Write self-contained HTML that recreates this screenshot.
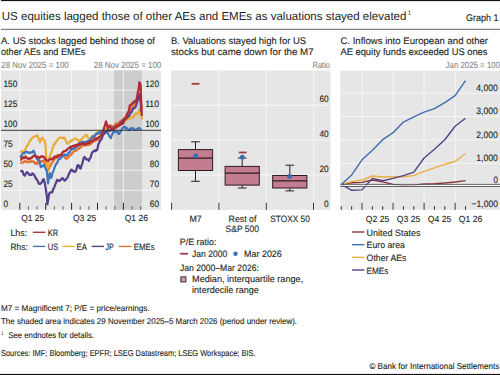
<!DOCTYPE html>
<html><head><meta charset="utf-8"><style>
html,body{margin:0;padding:0;background:#fff;width:500px;height:375px;overflow:hidden}
svg{display:block;font-family:"Liberation Sans", sans-serif;text-rendering:geometricPrecision}
text{stroke-width:0.12px;paint-order:stroke}
</style></head><body>
<svg width="500" height="375" viewBox="0 0 500 375">
<rect x="0.9" y="0" width="499.1" height="1.1" fill="#151515"/>
<rect x="0.9" y="28.8" width="499.1" height="1.1" fill="#707070"/>
<rect x="0" y="373.9" width="500" height="1.1" fill="#111"/>
<text x="1.8" y="19.9" font-size="11.6" fill="#231f20" textLength="404.6" lengthAdjust="spacingAndGlyphs">US equities lagged those of other AEs and EMEs as valuations stayed elevated</text>
<text x="408.2" y="14.7" font-size="6.4" fill="#231f20" stroke="#231f20" textLength="2.4" lengthAdjust="spacingAndGlyphs">1</text>
<text x="498.6" y="20.8" font-size="9.8" fill="#231f20" stroke="#231f20" text-anchor="end" textLength="32.6" lengthAdjust="spacingAndGlyphs">Graph 1</text>
<text x="1" y="44" font-size="9.6" fill="#231f20" stroke="#231f20" textLength="154" lengthAdjust="spacingAndGlyphs">A. US stocks lagged behind those of</text>
<text x="1" y="54.8" font-size="9.6" fill="#231f20" stroke="#231f20" textLength="84.3" lengthAdjust="spacingAndGlyphs">other AEs and EMEs</text>
<text x="1.3" y="68" font-size="8.9" fill="#8a8a8a" stroke="#8a8a8a" textLength="67.5" lengthAdjust="spacingAndGlyphs">28 Nov 2025 = 100</text>
<text x="161.3" y="68" font-size="8.9" fill="#8a8a8a" stroke="#8a8a8a" text-anchor="end" textLength="67.5" lengthAdjust="spacingAndGlyphs">28 Nov 2025 = 100</text>
<rect x="1" y="70.4" width="160" height="139.4" fill="#e6e6e6"/>
<rect x="114" y="70.4" width="28" height="139.4" fill="#cdcdcd"/>
<line x1="1" y1="90.22999999999999" x2="161" y2="90.22999999999999" stroke="#fff" stroke-width="0.65"/>
<line x1="1" y1="110.25" x2="161" y2="110.25" stroke="#fff" stroke-width="0.65"/>
<line x1="1" y1="150.29" x2="161" y2="150.29" stroke="#fff" stroke-width="0.65"/>
<line x1="1" y1="170.31" x2="161" y2="170.31" stroke="#fff" stroke-width="0.65"/>
<line x1="1" y1="190.32999999999998" x2="161" y2="190.32999999999998" stroke="#fff" stroke-width="0.65"/>
<line x1="19.8" y1="70.4" x2="19.8" y2="209.8" stroke="#fff" stroke-width="0.65"/>
<line x1="45.7" y1="70.4" x2="45.7" y2="209.8" stroke="#fff" stroke-width="0.65"/>
<line x1="71.6" y1="70.4" x2="71.6" y2="209.8" stroke="#fff" stroke-width="0.65"/>
<line x1="97.5" y1="70.4" x2="97.5" y2="209.8" stroke="#fff" stroke-width="0.65"/>
<line x1="123.4" y1="70.4" x2="123.4" y2="209.8" stroke="#fff" stroke-width="0.65"/>
<line x1="19.8" y1="202.8" x2="19.8" y2="209.8" stroke="#222" stroke-width="1"/>
<line x1="28.433333333333334" y1="206.20000000000002" x2="28.433333333333334" y2="209.8" stroke="#666" stroke-width="1"/>
<line x1="37.06666666666666" y1="206.20000000000002" x2="37.06666666666666" y2="209.8" stroke="#666" stroke-width="1"/>
<line x1="45.699999999999996" y1="202.8" x2="45.699999999999996" y2="209.8" stroke="#222" stroke-width="1"/>
<line x1="54.33333333333333" y1="206.20000000000002" x2="54.33333333333333" y2="209.8" stroke="#666" stroke-width="1"/>
<line x1="62.96666666666667" y1="206.20000000000002" x2="62.96666666666667" y2="209.8" stroke="#666" stroke-width="1"/>
<line x1="71.6" y1="202.8" x2="71.6" y2="209.8" stroke="#222" stroke-width="1"/>
<line x1="80.23333333333333" y1="206.20000000000002" x2="80.23333333333333" y2="209.8" stroke="#666" stroke-width="1"/>
<line x1="88.86666666666666" y1="206.20000000000002" x2="88.86666666666666" y2="209.8" stroke="#666" stroke-width="1"/>
<line x1="97.5" y1="202.8" x2="97.5" y2="209.8" stroke="#222" stroke-width="1"/>
<line x1="106.13333333333333" y1="206.20000000000002" x2="106.13333333333333" y2="209.8" stroke="#666" stroke-width="1"/>
<line x1="114.76666666666665" y1="206.20000000000002" x2="114.76666666666665" y2="209.8" stroke="#666" stroke-width="1"/>
<line x1="123.39999999999998" y1="202.8" x2="123.39999999999998" y2="209.8" stroke="#222" stroke-width="1"/>
<line x1="132.03333333333333" y1="206.20000000000002" x2="132.03333333333333" y2="209.8" stroke="#666" stroke-width="1"/>
<line x1="140.66666666666666" y1="206.20000000000002" x2="140.66666666666666" y2="209.8" stroke="#666" stroke-width="1"/>
<text x="3.5" y="87.13" font-size="9.2" fill="#231f20" stroke="#231f20" textLength="13.799999999999999" lengthAdjust="spacingAndGlyphs">150</text>
<text x="3.5" y="107.15" font-size="9.2" fill="#231f20" stroke="#231f20" textLength="13.799999999999999" lengthAdjust="spacingAndGlyphs">125</text>
<text x="3.5" y="127.16999999999999" font-size="9.2" fill="#231f20" stroke="#231f20" textLength="13.799999999999999" lengthAdjust="spacingAndGlyphs">100</text>
<text x="3.5" y="147.19" font-size="9.2" fill="#231f20" stroke="#231f20" textLength="9.2" lengthAdjust="spacingAndGlyphs">75</text>
<text x="3.5" y="167.21" font-size="9.2" fill="#231f20" stroke="#231f20" textLength="9.2" lengthAdjust="spacingAndGlyphs">50</text>
<text x="3.5" y="187.23" font-size="9.2" fill="#231f20" stroke="#231f20" textLength="9.2" lengthAdjust="spacingAndGlyphs">25</text>
<text x="3.5" y="207.25" font-size="9.2" fill="#231f20" stroke="#231f20" textLength="4.6" lengthAdjust="spacingAndGlyphs">0</text>
<text x="159.0" y="87.13" font-size="9.2" fill="#231f20" stroke="#231f20" text-anchor="end" textLength="13.799999999999999" lengthAdjust="spacingAndGlyphs">120</text>
<text x="159.0" y="107.15" font-size="9.2" fill="#231f20" stroke="#231f20" text-anchor="end" textLength="13.799999999999999" lengthAdjust="spacingAndGlyphs">110</text>
<text x="159.0" y="127.16999999999999" font-size="9.2" fill="#231f20" stroke="#231f20" text-anchor="end" textLength="13.799999999999999" lengthAdjust="spacingAndGlyphs">100</text>
<text x="159.0" y="147.19" font-size="9.2" fill="#231f20" stroke="#231f20" text-anchor="end" textLength="9.2" lengthAdjust="spacingAndGlyphs">90</text>
<text x="159.0" y="167.21" font-size="9.2" fill="#231f20" stroke="#231f20" text-anchor="end" textLength="9.2" lengthAdjust="spacingAndGlyphs">80</text>
<text x="159.0" y="187.23" font-size="9.2" fill="#231f20" stroke="#231f20" text-anchor="end" textLength="9.2" lengthAdjust="spacingAndGlyphs">70</text>
<text x="159.0" y="207.25" font-size="9.2" fill="#231f20" stroke="#231f20" text-anchor="end" textLength="9.2" lengthAdjust="spacingAndGlyphs">60</text>
<text x="32.75" y="221.3" font-size="8.8" fill="#231f20" stroke="#231f20" text-anchor="middle" textLength="23.2" lengthAdjust="spacingAndGlyphs">Q1 25</text>
<text x="84.55" y="221.3" font-size="8.8" fill="#231f20" stroke="#231f20" text-anchor="middle" textLength="23.2" lengthAdjust="spacingAndGlyphs">Q3 25</text>
<text x="136.35" y="221.3" font-size="8.8" fill="#231f20" stroke="#231f20" text-anchor="middle" textLength="23.2" lengthAdjust="spacingAndGlyphs">Q1 26</text>
<clipPath id="cA"><rect x="1" y="70.4" width="160" height="139.4"/></clipPath>
<g clip-path="url(#cA)">
<polyline points="20.3,163.2 21.1,162.8 22.0,162.4 22.7,162.6 23.4,162.5 24.2,161.5 24.9,161.1 25.6,161.7 26.4,161.4 27.1,162.3 27.8,161.6 28.6,161.9 29.3,161.8 30.1,161.7 30.9,161.9 31.7,161.0 32.4,161.5 33.2,161.6 34.0,161.6 34.8,163.5 35.6,162.6 36.4,164.0 37.2,164.0 38.0,162.1 38.8,162.7 39.6,161.5 40.4,161.2 41.2,161.1 42.0,162.0 42.8,160.6 43.6,160.7 44.4,161.6 45.1,164.6 45.9,166.2 46.6,167.8 47.4,170.8 48.1,170.5 48.8,169.2 49.6,166.5 50.3,165.9 51.0,164.8 51.8,162.9 52.5,162.1 53.2,161.4 54.0,160.0 54.8,158.4 55.6,158.3 56.4,156.1 57.2,155.2 58.0,154.8 58.8,155.4 59.6,154.8 60.4,154.9 61.2,155.3 62.0,155.2 62.8,155.8 63.6,156.3 64.4,156.3 65.2,158.2 66.0,158.4 66.7,158.8 67.4,158.3 68.2,157.3 68.9,156.2 69.6,156.0 70.3,155.0 71.0,154.9 71.8,154.2 72.5,152.4 73.2,152.4 74.0,151.3 74.8,151.0 75.6,150.6 76.4,150.6 77.2,149.4 78.0,148.8 78.8,147.5 79.5,148.5 80.2,147.3 81.0,147.0 81.8,146.0 82.5,146.0 83.2,145.4 84.0,145.2 84.8,145.6 85.5,144.3 86.2,145.1 87.0,144.3 87.8,145.2 88.5,143.9 89.2,144.3 90.0,144.6 90.8,143.7 91.6,143.6 92.4,142.0 93.2,142.1 94.0,141.1 94.8,141.0 95.6,140.1 96.4,140.0 97.2,140.3 98.0,139.0 98.8,139.3 99.6,138.0 100.4,136.6 101.2,137.2 102.0,135.4 102.8,134.2 103.6,134.4 104.4,133.2 105.1,132.7 105.8,129.9 106.6,129.2 107.3,128.9 108.0,127.2 108.8,126.7 109.6,126.3 110.4,125.7 111.2,125.6 112.0,126.4 112.8,126.0 113.5,126.4 114.3,126.0 115.0,124.7 115.8,123.4 116.5,123.5 117.3,123.9 118.0,123.0 118.8,123.0 119.6,122.1 120.4,120.8 121.2,120.8 122.0,120.1 122.8,119.6 123.5,119.1 124.2,117.7 125.0,118.2 125.7,117.4 126.4,116.0 127.1,114.2 127.8,113.2 128.6,113.1 129.3,110.8 130.0,110.0 130.8,109.6 131.6,107.6 132.4,106.8 133.2,105.6 134.0,104.0 134.8,102.5 135.5,101.6 136.2,100.6 137.0,100.0 138.0,98.8 139.0,97.0 139.8,98.8 140.5,100.0 141.8,108.0" fill="none" stroke="#e2702f" stroke-width="2.2" stroke-linejoin="round" stroke-linecap="butt"/>
<polyline points="20.3,152.8 21.2,151.5 22.2,151.0 23.0,151.1 23.8,150.9 24.6,150.4 25.5,149.7 26.3,147.1 27.1,145.9 28.0,145.0 28.8,142.9 29.5,141.6 30.2,141.1 31.0,139.2 31.8,138.0 32.5,138.2 33.2,137.0 34.0,137.0 34.9,136.2 35.7,136.0 36.5,136.3 37.4,135.2 38.2,137.8 39.0,139.1 39.8,142.4 40.6,140.4 41.4,138.6 42.2,137.6 43.0,139.1 43.8,139.8 44.6,140.0 45.5,146.0 46.4,159.6 47.2,172.0 48.2,166.0 49.2,158.0 50.0,156.1 50.9,153.5 51.7,151.4 52.6,148.6 53.4,145.6 54.2,144.0 54.9,144.0 55.7,142.2 56.4,141.6 57.2,140.0 58.1,139.3 58.9,138.3 59.8,137.6 60.6,137.6 61.4,137.9 62.2,137.9 63.0,138.4 63.9,137.5 64.8,138.0 65.6,140.4 66.4,142.1 67.2,143.4 68.0,143.8 68.8,142.7 69.6,142.0 70.4,141.8 71.2,140.2 72.0,140.4 72.7,140.4 73.4,139.6 74.2,138.7 74.9,138.4 75.6,138.6 76.3,139.1 77.0,139.2 77.7,140.0 78.4,140.8 79.1,140.9 79.8,141.6 80.5,140.1 81.2,140.0 81.9,138.7 82.6,137.9 83.3,137.1 84.0,136.8 84.8,136.0 85.6,134.8 86.4,135.0 87.2,136.3 87.9,137.9 88.7,138.0 89.4,139.2 90.2,138.9 91.1,138.5 91.9,136.2 92.8,135.7 93.6,135.6 94.4,135.6 95.2,135.0 96.0,134.1 96.8,132.6 97.6,132.4 98.4,132.0 99.1,132.5 99.8,132.5 100.6,132.2 101.3,131.0 102.0,131.4 102.8,131.8 103.6,130.6 104.4,130.9 105.2,129.6 106.0,130.0 106.8,131.0 107.6,130.6 108.4,131.0 109.2,130.3 110.0,131.0 110.8,130.8 111.6,130.3 112.4,130.0 113.2,129.1 114.0,129.0 114.8,128.8 115.6,127.5 116.4,126.8 117.2,126.0 118.0,126.0 118.8,125.8 119.5,124.3 120.2,124.0 121.0,123.2 121.8,123.8 122.5,123.1 123.2,122.6 124.0,122.0 124.8,120.6 125.6,120.7 126.4,119.9 127.2,118.9 128.0,118.1 128.8,118.4 129.6,119.1 130.4,117.3 131.2,117.4 132.0,117.2 132.8,117.6 133.6,117.2 134.4,115.2 135.2,114.6 136.0,113.4 136.8,113.2 137.6,114.1 138.4,113.6 139.6,108.6 140.8,110.0 142.0,119.6" fill="none" stroke="#eaab38" stroke-width="2.2" stroke-linejoin="round" stroke-linecap="butt"/>
<polyline points="20.3,157.6 21.2,155.4 22.1,154.9 23.0,153.0 23.8,153.0 24.6,153.3 25.4,151.8 26.2,152.0 27.0,151.7 27.7,152.7 28.5,152.8 29.2,152.3 30.0,152.8 30.8,152.8 31.6,152.0 32.4,152.3 33.2,150.8 34.0,151.2 35.2,155.2 36.1,156.3 37.1,159.1 38.0,160.0 39.0,160.0 39.9,163.3 40.8,167.2 41.5,166.2 42.3,166.5 43.0,165.6 43.8,164.8 44.5,165.7 45.3,167.9 46.0,169.6 46.8,170.8 48.0,183.4 48.9,177.7 49.8,173.2 51.0,178.0 51.8,176.2 52.5,173.1 53.2,171.4 54.0,169.6 54.8,166.8 55.6,165.1 56.4,163.6 57.3,162.7 58.2,160.0 59.1,159.0 60.0,158.4 60.7,158.6 61.4,156.8 62.2,156.4 62.9,156.2 63.6,154.8 64.3,155.3 65.0,154.3 65.8,155.3 66.5,155.5 67.2,155.4 67.9,153.7 68.6,152.5 69.4,152.8 70.1,151.1 70.8,150.0 71.6,149.0 72.4,149.1 73.2,148.3 74.0,148.9 74.8,148.0 75.6,147.6 76.3,146.0 77.0,146.5 77.8,144.3 78.5,143.8 79.2,143.4 80.0,142.4 80.8,143.4 81.6,142.1 82.4,142.6 83.2,141.7 84.0,142.2 84.8,142.0 85.6,142.1 86.4,141.7 87.2,141.3 88.0,141.2 88.8,141.0 89.6,140.1 90.4,139.6 91.2,137.9 92.0,137.8 92.8,136.5 93.6,136.2 94.3,136.4 95.0,136.0 95.8,134.0 96.5,133.6 97.2,133.8 98.0,133.8 98.8,133.1 99.6,131.7 100.4,132.6 101.2,132.6 102.0,131.4 102.7,131.4 103.4,131.4 104.2,131.9 104.9,132.7 105.6,132.0 106.4,132.0 107.2,132.8 107.9,133.5 108.6,134.4 109.4,136.3 110.1,137.1 110.8,138.2 111.6,135.8 112.4,134.0 113.2,132.2 113.9,131.1 114.6,131.4 115.4,132.3 116.1,131.4 116.8,131.0 117.6,131.6 118.4,133.8 119.2,134.0 120.0,132.5 120.8,131.2 121.6,129.6 122.4,128.6 123.2,127.5 124.0,126.8 124.8,126.8 125.6,128.5 126.4,127.9 127.2,128.3 128.0,129.5 128.8,129.8 129.5,130.2 130.2,128.7 131.0,129.2 131.7,128.1 132.4,128.0 133.1,128.5 133.8,128.9 134.6,129.9 135.3,129.9 136.0,129.8 136.8,129.2 137.6,129.2 138.4,128.0 139.2,128.1 139.9,128.4 140.7,129.7 141.4,129.2" fill="none" stroke="#3d76bd" stroke-width="2.2" stroke-linejoin="round" stroke-linecap="butt"/>
<polyline points="20.3,171.4 21.2,171.0 22.2,170.8 23.0,172.5 23.8,174.8 24.6,175.6 25.4,174.3 26.2,173.2 27.0,172.0 27.8,173.2 28.6,173.4 29.4,175.0 30.1,174.8 30.8,174.8 31.6,174.8 32.3,173.3 33.0,173.8 33.8,174.5 34.5,175.2 35.2,177.5 36.0,178.0 36.8,179.9 37.6,180.4 38.4,182.8 39.2,183.9 40.0,184.0 40.8,183.4 41.5,182.6 42.3,181.5 43.0,179.6 43.8,179.2 44.7,182.5 45.6,187.6 46.8,196.0 47.4,204.4 48.3,199.1 49.2,193.6 50.0,192.5 50.7,192.4 51.5,192.2 52.2,192.4 53.0,189.6 53.8,188.3 54.6,186.4 55.4,184.1 56.2,182.6 57.0,179.8 57.8,180.2 58.6,180.9 59.4,181.0 60.1,180.2 60.9,179.8 61.6,178.7 62.4,178.0 63.3,178.8 64.2,180.4 64.9,180.6 65.6,179.9 66.4,178.9 67.1,177.9 67.8,176.8 68.5,175.0 69.2,173.4 70.0,172.1 70.7,170.3 71.4,169.6 72.1,170.6 72.8,170.4 73.6,171.7 74.3,171.3 75.0,172.0 75.8,171.1 76.5,169.1 77.2,165.9 78.0,165.0 78.9,165.7 79.7,168.1 80.6,168.6 81.4,165.7 82.3,163.8 83.2,159.9 84.0,157.2 84.8,157.0 85.6,158.6 86.4,159.5 87.2,159.2 88.0,159.5 88.8,160.8 89.5,158.8 90.2,158.3 91.0,156.2 91.7,153.4 92.4,152.4 93.2,151.5 94.0,150.9 94.8,150.4 95.6,151.3 96.4,149.8 97.2,150.0 98.4,144.0 99.1,142.9 99.8,141.5 100.6,139.8 101.3,139.6 102.0,138.0 102.8,135.3 103.6,134.0 104.4,133.5 105.3,131.8 106.2,131.6 107.0,131.0 107.7,130.2 108.4,130.1 109.1,131.1 109.9,130.5 110.6,129.4 111.3,130.1 112.0,129.2 112.7,128.2 113.5,128.1 114.2,128.5 114.9,127.7 115.7,126.3 116.4,127.4 117.1,125.6 117.9,125.2 118.6,125.2 119.4,124.9 120.3,123.3 121.2,122.4 122.0,122.0 122.8,120.5 123.6,119.9 124.4,120.1 125.2,118.8 126.0,118.8 126.8,117.7 127.6,117.2 128.4,115.9 129.2,115.6 130.0,113.6 130.8,112.5 131.6,111.9 132.4,110.0 133.2,108.8 134.0,108.0 134.8,108.0 135.6,106.7 136.3,104.6 137.1,101.5 137.8,100.0 138.7,96.4 139.6,94.0 140.5,100.0 141.4,112.0" fill="none" stroke="#573e8c" stroke-width="2.2" stroke-linejoin="round" stroke-linecap="butt"/>
<polyline points="20.3,159.2 21.1,159.7 21.9,157.6 22.6,158.5 23.4,157.1 24.2,158.2 25.0,157.0 25.7,156.4 26.4,158.2 27.1,158.1 27.9,158.7 28.6,159.2 29.3,158.1 30.0,158.8 30.8,158.0 31.6,158.1 32.4,156.8 33.2,156.2 34.0,155.6 34.8,155.6 35.6,156.6 36.4,157.1 37.2,157.3 38.0,156.7 38.8,157.6 39.6,158.1 40.4,157.1 41.2,156.4 42.0,156.6 42.8,156.4 43.6,157.1 44.4,157.4 45.2,159.2 46.0,159.7 46.8,160.8 47.6,160.5 48.4,160.8 49.2,159.9 50.0,159.2 50.7,158.8 51.4,159.3 52.1,159.3 52.8,158.1 53.6,158.7 54.3,156.7 55.0,156.7 55.7,156.5 56.4,156.8 57.1,157.3 57.8,156.6 58.6,156.4 59.3,155.3 60.0,155.4 60.8,154.7 61.6,154.7 62.4,152.6 63.2,151.9 64.0,151.1 64.8,151.2 65.6,150.5 66.4,150.6 67.2,149.5 68.0,148.6 68.8,148.2 69.6,147.6 70.3,146.7 71.1,147.8 71.8,146.4 72.6,145.9 73.3,145.8 74.1,146.4 74.8,145.2 75.6,145.2 76.3,145.8 77.1,144.6 77.8,144.6 78.6,143.8 79.3,145.2 80.1,144.8 80.8,144.1 81.6,144.0 82.3,143.2 83.1,143.8 83.8,143.6 84.6,144.3 85.3,144.4 86.1,144.0 86.8,143.1 87.6,143.4 88.3,142.1 89.1,143.2 89.8,142.9 90.6,141.0 91.3,141.1 92.1,140.7 92.8,141.1 93.6,139.8 94.3,138.6 95.1,138.3 95.8,139.3 96.6,138.4 97.3,137.9 98.1,138.0 98.8,137.3 99.6,136.8 100.3,136.4 101.0,135.0 101.7,134.0 102.4,134.0 103.1,130.6 103.8,128.7 104.6,126.7 105.3,123.7 106.0,121.4 106.9,124.4 107.8,128.0 108.7,127.0 109.6,125.6 110.4,127.4 111.2,128.6 112.0,129.8 112.7,128.9 113.4,129.2 114.2,128.5 114.9,128.1 115.6,126.8 116.3,127.3 117.0,125.4 117.8,126.4 118.5,125.6 119.2,125.6 119.9,125.0 120.6,124.9 121.4,123.9 122.1,123.7 122.8,123.8 123.5,123.0 124.3,120.2 125.0,119.6 125.8,117.2 126.5,116.0 127.3,113.8 128.1,112.2 128.8,111.0 129.8,105.4 130.6,105.0 131.4,104.6 132.2,103.3 133.0,103.0 133.8,101.6 134.6,101.2 135.4,101.8 136.2,100.6 137.0,97.3 137.8,92.4 138.6,89.4 139.4,82.2 140.6,84.6 141.3,105.0 141.8,116.0" fill="none" stroke="#b02c32" stroke-width="2.2" stroke-linejoin="round" stroke-linecap="butt"/>
</g>
<line x1="1" y1="130.3" x2="161" y2="130.3" stroke="#3a3a3a" stroke-width="1"/>
<text x="10.4" y="235.9" font-size="9.2" fill="#231f20" stroke="#231f20" textLength="16.8" lengthAdjust="spacingAndGlyphs">Lhs:</text>
<line x1="32.8" y1="232.3" x2="45.4" y2="232.3" stroke="#b03340" stroke-width="1.4"/>
<text x="47.8" y="235.9" font-size="9.2" fill="#231f20" stroke="#231f20" textLength="10.4" lengthAdjust="spacingAndGlyphs">KR</text>
<text x="10.4" y="249.8" font-size="9.2" fill="#231f20" stroke="#231f20" textLength="17.4" lengthAdjust="spacingAndGlyphs">Rhs:</text>
<line x1="32.8" y1="246.4" x2="45.2" y2="246.4" stroke="#4676b6" stroke-width="1.4"/>
<text x="47.8" y="249.8" font-size="9.2" fill="#231f20" stroke="#231f20" textLength="10.4" lengthAdjust="spacingAndGlyphs">US</text>
<line x1="62.2" y1="246.4" x2="74.8" y2="246.4" stroke="#e9b042" stroke-width="1.4"/>
<text x="76.6" y="249.8" font-size="9.2" fill="#231f20" stroke="#231f20" textLength="10.3" lengthAdjust="spacingAndGlyphs">EA</text>
<line x1="91.7" y1="246.4" x2="103.9" y2="246.4" stroke="#574088" stroke-width="1.4"/>
<text x="105.5" y="249.8" font-size="9.2" fill="#231f20" stroke="#231f20" textLength="8.3" lengthAdjust="spacingAndGlyphs">JP</text>
<line x1="118.9" y1="246.4" x2="131.4" y2="246.4" stroke="#e07236" stroke-width="1.4"/>
<text x="133.8" y="249.8" font-size="9.2" fill="#231f20" stroke="#231f20" textLength="20.8" lengthAdjust="spacingAndGlyphs">EMEs</text>
<text x="171" y="44" font-size="9.6" fill="#231f20" stroke="#231f20" textLength="135" lengthAdjust="spacingAndGlyphs">B. Valuations stayed high for US</text>
<text x="171" y="54.8" font-size="9.6" fill="#231f20" stroke="#231f20" textLength="142.6" lengthAdjust="spacingAndGlyphs">stocks but came down for the M7</text>
<text x="330" y="68" font-size="8.9" fill="#8a8a8a" stroke="#8a8a8a" text-anchor="end" textLength="17.5" lengthAdjust="spacingAndGlyphs">Ratio</text>
<rect x="171" y="70.5" width="159.5" height="139.3" fill="#e6e6e6"/>
<line x1="171" y1="105.31000000000002" x2="330.5" y2="105.31000000000002" stroke="#fff" stroke-width="0.65"/>
<line x1="171" y1="140.14000000000001" x2="330.5" y2="140.14000000000001" stroke="#fff" stroke-width="0.65"/>
<line x1="171" y1="174.97000000000003" x2="330.5" y2="174.97000000000003" stroke="#fff" stroke-width="0.65"/>
<line x1="218.9" y1="70.5" x2="218.9" y2="209.8" stroke="#fff" stroke-width="0.65"/>
<line x1="266.3" y1="70.5" x2="266.3" y2="209.8" stroke="#fff" stroke-width="0.65"/>
<line x1="313.7" y1="70.5" x2="313.7" y2="209.8" stroke="#fff" stroke-width="0.65"/>
<line x1="171.6" y1="202.8" x2="171.6" y2="209.8" stroke="#333" stroke-width="1"/>
<line x1="218.9" y1="202.8" x2="218.9" y2="209.8" stroke="#333" stroke-width="1"/>
<line x1="266.3" y1="202.8" x2="266.3" y2="209.8" stroke="#333" stroke-width="1"/>
<line x1="313.5" y1="202.8" x2="313.5" y2="209.8" stroke="#333" stroke-width="1"/>
<text x="328.7" y="102.21000000000002" font-size="9.2" fill="#231f20" stroke="#231f20" text-anchor="end" textLength="9.2" lengthAdjust="spacingAndGlyphs">60</text>
<text x="328.7" y="137.04000000000002" font-size="9.2" fill="#231f20" stroke="#231f20" text-anchor="end" textLength="9.2" lengthAdjust="spacingAndGlyphs">40</text>
<text x="328.7" y="171.87000000000003" font-size="9.2" fill="#231f20" stroke="#231f20" text-anchor="end" textLength="9.2" lengthAdjust="spacingAndGlyphs">20</text>
<text x="328.7" y="206.70000000000002" font-size="9.2" fill="#231f20" stroke="#231f20" text-anchor="end" textLength="4.6" lengthAdjust="spacingAndGlyphs">0</text>
<line x1="195.5" y1="141.8" x2="195.5" y2="149.6" stroke="#2e1a22" stroke-width="1"/>
<line x1="195.5" y1="170.5" x2="195.5" y2="181.3" stroke="#2e1a22" stroke-width="1"/>
<line x1="191.2" y1="141.8" x2="199.8" y2="141.8" stroke="#2e1a22" stroke-width="1"/>
<line x1="191.2" y1="181.3" x2="199.8" y2="181.3" stroke="#2e1a22" stroke-width="1"/>
<rect x="178.4" y="149.6" width="34.2" height="20.900000000000006" fill="#c37d8e" stroke="#2e1a22" stroke-width="1"/>
<line x1="178.4" y1="158.2" x2="212.6" y2="158.2" stroke="#2e1a22" stroke-width="1.2"/>
<line x1="242.2" y1="158" x2="242.2" y2="166.4" stroke="#2e1a22" stroke-width="1"/>
<line x1="242.2" y1="185.1" x2="242.2" y2="188" stroke="#2e1a22" stroke-width="1"/>
<line x1="237.89999999999998" y1="158" x2="246.5" y2="158" stroke="#2e1a22" stroke-width="1"/>
<line x1="237.89999999999998" y1="188" x2="246.5" y2="188" stroke="#2e1a22" stroke-width="1"/>
<rect x="225.1" y="166.4" width="34.2" height="18.69999999999999" fill="#c37d8e" stroke="#2e1a22" stroke-width="1"/>
<line x1="225.1" y1="173.1" x2="259.3" y2="173.1" stroke="#2e1a22" stroke-width="1.2"/>
<line x1="289.8" y1="165.2" x2="289.8" y2="175.5" stroke="#2e1a22" stroke-width="1"/>
<line x1="289.8" y1="188" x2="289.8" y2="190.9" stroke="#2e1a22" stroke-width="1"/>
<line x1="285.5" y1="165.2" x2="294.1" y2="165.2" stroke="#2e1a22" stroke-width="1"/>
<line x1="285.5" y1="190.9" x2="294.1" y2="190.9" stroke="#2e1a22" stroke-width="1"/>
<rect x="272.7" y="175.5" width="34.2" height="12.5" fill="#c37d8e" stroke="#2e1a22" stroke-width="1"/>
<line x1="272.7" y1="180.8" x2="306.90000000000003" y2="180.8" stroke="#2e1a22" stroke-width="1.2"/>
<line x1="191.6" y1="83.8" x2="199.5" y2="83.8" stroke="#a83a48" stroke-width="1.8"/>
<line x1="238.7" y1="152.5" x2="246.6" y2="152.5" stroke="#a83a48" stroke-width="1.8"/>
<circle cx="195.6" cy="156" r="2.45" fill="#3b6cb0"/>
<circle cx="242.3" cy="157.3" r="2.45" fill="#3b6cb0"/>
<circle cx="289.5" cy="176.5" r="2.45" fill="#3b6cb0"/>
<text x="195.5" y="221.7" font-size="9.2" fill="#231f20" stroke="#231f20" text-anchor="middle" textLength="12.2" lengthAdjust="spacingAndGlyphs">M7</text>
<text x="242.5" y="221.7" font-size="9.2" fill="#231f20" stroke="#231f20" text-anchor="middle" textLength="27.8" lengthAdjust="spacingAndGlyphs">Rest of</text>
<text x="242.3" y="232.2" font-size="9.2" fill="#231f20" stroke="#231f20" text-anchor="middle" textLength="33.4" lengthAdjust="spacingAndGlyphs">S&amp;P 500</text>
<text x="290" y="221.7" font-size="9.2" fill="#231f20" stroke="#231f20" text-anchor="middle" textLength="39.6" lengthAdjust="spacingAndGlyphs">STOXX 50</text>
<text x="179.8" y="244.8" font-size="9.2" fill="#231f20" stroke="#231f20" textLength="36.6" lengthAdjust="spacingAndGlyphs">P/E ratio:</text>
<line x1="180.2" y1="253.7" x2="188" y2="253.7" stroke="#a83a48" stroke-width="1.8"/>
<text x="192.1" y="256.5" font-size="9.2" fill="#231f20" stroke="#231f20" textLength="35.1" lengthAdjust="spacingAndGlyphs">Jan 2000</text>
<circle cx="235.5" cy="253.7" r="2.2" fill="#3b6fb3"/>
<text x="244.1" y="256.5" font-size="9.2" fill="#231f20" stroke="#231f20" textLength="37.7" lengthAdjust="spacingAndGlyphs">Mar 2026</text>
<text x="179.9" y="270.8" font-size="9.2" fill="#231f20" stroke="#231f20" textLength="79" lengthAdjust="spacingAndGlyphs">Jan 2000–Mar 2026:</text>
<rect x="180.9" y="276.9" width="5" height="5" fill="#cfa3b0" stroke="#3a2530" stroke-width="1"/>
<text x="192.1" y="282.2" font-size="9.2" fill="#231f20" stroke="#231f20" textLength="111.1" lengthAdjust="spacingAndGlyphs">Median, interquartile range,</text>
<text x="192.1" y="292.9" font-size="9.2" fill="#231f20" stroke="#231f20" textLength="66.8" lengthAdjust="spacingAndGlyphs">interdecile range</text>
<text x="340.4" y="44" font-size="9.6" fill="#231f20" stroke="#231f20" textLength="147.6" lengthAdjust="spacingAndGlyphs">C. Inflows into European and other</text>
<text x="340.4" y="54.8" font-size="9.6" fill="#231f20" stroke="#231f20" textLength="147.1" lengthAdjust="spacingAndGlyphs">AE equity funds exceeded US ones</text>
<text x="500" y="68" font-size="8.9" fill="#8a8a8a" stroke="#8a8a8a" text-anchor="end" textLength="54.4" lengthAdjust="spacingAndGlyphs">Jan 2025 = 100</text>
<rect x="340.3" y="70.6" width="159.7" height="139.20000000000002" fill="#e6e6e6"/>
<line x1="340.3" y1="93.3" x2="500" y2="93.3" stroke="#fff" stroke-width="0.65"/>
<line x1="340.3" y1="116.6" x2="500" y2="116.6" stroke="#fff" stroke-width="0.65"/>
<line x1="340.3" y1="140.0" x2="500" y2="140.0" stroke="#fff" stroke-width="0.65"/>
<line x1="340.3" y1="163.4" x2="500" y2="163.4" stroke="#fff" stroke-width="0.65"/>
<line x1="362" y1="70.6" x2="362" y2="209.8" stroke="#fff" stroke-width="0.65"/>
<line x1="393.05" y1="70.6" x2="393.05" y2="209.8" stroke="#fff" stroke-width="0.65"/>
<line x1="424.1" y1="70.6" x2="424.1" y2="209.8" stroke="#fff" stroke-width="0.65"/>
<line x1="455.15" y1="70.6" x2="455.15" y2="209.8" stroke="#fff" stroke-width="0.65"/>
<line x1="341.3" y1="206.20000000000002" x2="341.3" y2="209.8" stroke="#333" stroke-width="1"/>
<line x1="351.65000000000003" y1="206.20000000000002" x2="351.65000000000003" y2="209.8" stroke="#333" stroke-width="1"/>
<line x1="362.0" y1="202.8" x2="362.0" y2="209.8" stroke="#333" stroke-width="1"/>
<line x1="372.35" y1="206.20000000000002" x2="372.35" y2="209.8" stroke="#333" stroke-width="1"/>
<line x1="382.7" y1="206.20000000000002" x2="382.7" y2="209.8" stroke="#333" stroke-width="1"/>
<line x1="393.05" y1="202.8" x2="393.05" y2="209.8" stroke="#333" stroke-width="1"/>
<line x1="403.4" y1="206.20000000000002" x2="403.4" y2="209.8" stroke="#333" stroke-width="1"/>
<line x1="413.75" y1="206.20000000000002" x2="413.75" y2="209.8" stroke="#333" stroke-width="1"/>
<line x1="424.1" y1="202.8" x2="424.1" y2="209.8" stroke="#333" stroke-width="1"/>
<line x1="434.45" y1="206.20000000000002" x2="434.45" y2="209.8" stroke="#333" stroke-width="1"/>
<line x1="444.8" y1="206.20000000000002" x2="444.8" y2="209.8" stroke="#333" stroke-width="1"/>
<line x1="455.15" y1="202.8" x2="455.15" y2="209.8" stroke="#333" stroke-width="1"/>
<line x1="465.5" y1="206.20000000000002" x2="465.5" y2="209.8" stroke="#333" stroke-width="1"/>
<text x="497.9" y="91" font-size="9.2" fill="#231f20" stroke="#231f20" text-anchor="end" textLength="21.6" lengthAdjust="spacingAndGlyphs">4,000</text>
<text x="497.9" y="114.3" font-size="9.2" fill="#231f20" stroke="#231f20" text-anchor="end" textLength="21.6" lengthAdjust="spacingAndGlyphs">3,000</text>
<text x="497.9" y="137.7" font-size="9.2" fill="#231f20" stroke="#231f20" text-anchor="end" textLength="21.6" lengthAdjust="spacingAndGlyphs">2,000</text>
<text x="497.9" y="161" font-size="9.2" fill="#231f20" stroke="#231f20" text-anchor="end" textLength="21.6" lengthAdjust="spacingAndGlyphs">1,000</text>
<text x="497.9" y="183.3" font-size="9.2" fill="#231f20" stroke="#231f20" text-anchor="end" textLength="4.4" lengthAdjust="spacingAndGlyphs">0</text>
<text x="497.9" y="207" font-size="9.2" fill="#231f20" stroke="#231f20" text-anchor="end" textLength="26.4" lengthAdjust="spacingAndGlyphs">−1,000</text>
<text x="377.5" y="221.5" font-size="8.8" fill="#231f20" stroke="#231f20" text-anchor="middle" textLength="23.3" lengthAdjust="spacingAndGlyphs">Q2 25</text>
<text x="408.5" y="221.5" font-size="8.8" fill="#231f20" stroke="#231f20" text-anchor="middle" textLength="23.3" lengthAdjust="spacingAndGlyphs">Q3 25</text>
<text x="439.5" y="221.5" font-size="8.8" fill="#231f20" stroke="#231f20" text-anchor="middle" textLength="23.3" lengthAdjust="spacingAndGlyphs">Q4 25</text>
<text x="470.5" y="221.5" font-size="8.8" fill="#231f20" stroke="#231f20" text-anchor="middle" textLength="23.3" lengthAdjust="spacingAndGlyphs">Q1 26</text>
<polyline points="341.3,184.4 351.7,182.8 362.0,182.4 372.4,180.0 382.7,181.9 393.1,184.4 403.4,185.5 413.8,185.1 424.1,184.0 434.4,183.7 444.8,183.0 455.1,182.0 465.5,180.6" fill="none" stroke="#8a3340" stroke-width="1.4" stroke-linejoin="round" stroke-linecap="butt"/>
<polyline points="341.3,184.4 351.7,181.6 362.0,180.0 372.4,176.0 382.7,177.0 393.1,176.8 403.4,176.8 413.8,175.6 424.1,171.4 434.4,167.9 444.8,164.3 455.1,161.5 465.5,153.8" fill="none" stroke="#ebb040" stroke-width="1.4" stroke-linejoin="round" stroke-linecap="butt"/>
<polyline points="341.3,184.4 351.7,190.3 362.0,189.9 372.4,178.4 382.7,180.8 393.1,178.4 403.4,175.6 413.8,172.1 424.1,158.0 434.4,149.2 444.8,139.7 455.1,126.3 465.5,118.2" fill="none" stroke="#574088" stroke-width="1.4" stroke-linejoin="round" stroke-linecap="butt"/>
<polyline points="341.3,184.4 351.7,174.9 362.0,159.8 372.4,150.3 382.7,139.7 393.1,132.7 403.4,122.1 413.8,116.8 424.1,112.2 434.4,108.7 444.8,102.7 455.1,95.7 465.5,80.6" fill="none" stroke="#3f6db0" stroke-width="1.4" stroke-linejoin="round" stroke-linecap="butt"/>
<line x1="340.3" y1="184.4" x2="500" y2="184.4" stroke="#555" stroke-width="0.9"/>
<line x1="340.3" y1="186.5" x2="500" y2="186.5" stroke="#555" stroke-width="0.9"/>
<line x1="340.3" y1="185.45" x2="500" y2="185.45" stroke="#fff" stroke-width="0.7"/>
<line x1="352" y1="232.0" x2="364.4" y2="232.0" stroke="#8a3340" stroke-width="1.4"/>
<text x="366.6" y="235.7" font-size="9.2" fill="#231f20" stroke="#231f20" textLength="53.8" lengthAdjust="spacingAndGlyphs">United States</text>
<line x1="352" y1="244.67" x2="364.4" y2="244.67" stroke="#3f6db0" stroke-width="1.4"/>
<text x="366.6" y="248.36999999999998" font-size="9.2" fill="#231f20" stroke="#231f20" textLength="38.4" lengthAdjust="spacingAndGlyphs">Euro area</text>
<line x1="352" y1="257.34" x2="364.4" y2="257.34" stroke="#ebb040" stroke-width="1.4"/>
<text x="366.6" y="261.03999999999996" font-size="9.2" fill="#231f20" stroke="#231f20" textLength="39.8" lengthAdjust="spacingAndGlyphs">Other AEs</text>
<line x1="352" y1="270.01" x2="364.4" y2="270.01" stroke="#574088" stroke-width="1.4"/>
<text x="366.6" y="273.71" font-size="9.2" fill="#231f20" stroke="#231f20" textLength="21.8" lengthAdjust="spacingAndGlyphs">EMEs</text>
<text x="1" y="310.6" font-size="8.4" fill="#231f20" stroke="#231f20" textLength="148.6" lengthAdjust="spacingAndGlyphs">M7 = Magnificent 7; P/E = price/earnings.</text>
<text x="1" y="324.3" font-size="8.4" fill="#231f20" stroke="#231f20" textLength="296" lengthAdjust="spacingAndGlyphs">The shaded area indicates 29 November 2025–5 March 2026 (period under review).</text>
<text x="1.6" y="335.2" font-size="5.2" fill="#231f20" stroke="#231f20" textLength="1.6" lengthAdjust="spacingAndGlyphs">1</text>
<text x="8.4" y="338.2" font-size="8.4" fill="#231f20" stroke="#231f20" textLength="85.6" lengthAdjust="spacingAndGlyphs">See endnotes for details.</text>
<text x="1" y="356" font-size="8.5" fill="#231f20" stroke="#231f20" textLength="254.6" lengthAdjust="spacingAndGlyphs">Sources: IMF; Bloomberg; EPFR; LSEG Datastream; LSEG Workspace; BIS.</text>
<text x="499.4" y="368.8" font-size="8.5" fill="#231f20" stroke="#231f20" text-anchor="end" textLength="130" lengthAdjust="spacingAndGlyphs">© Bank for International Settlements</text>
</svg>
</body></html>
